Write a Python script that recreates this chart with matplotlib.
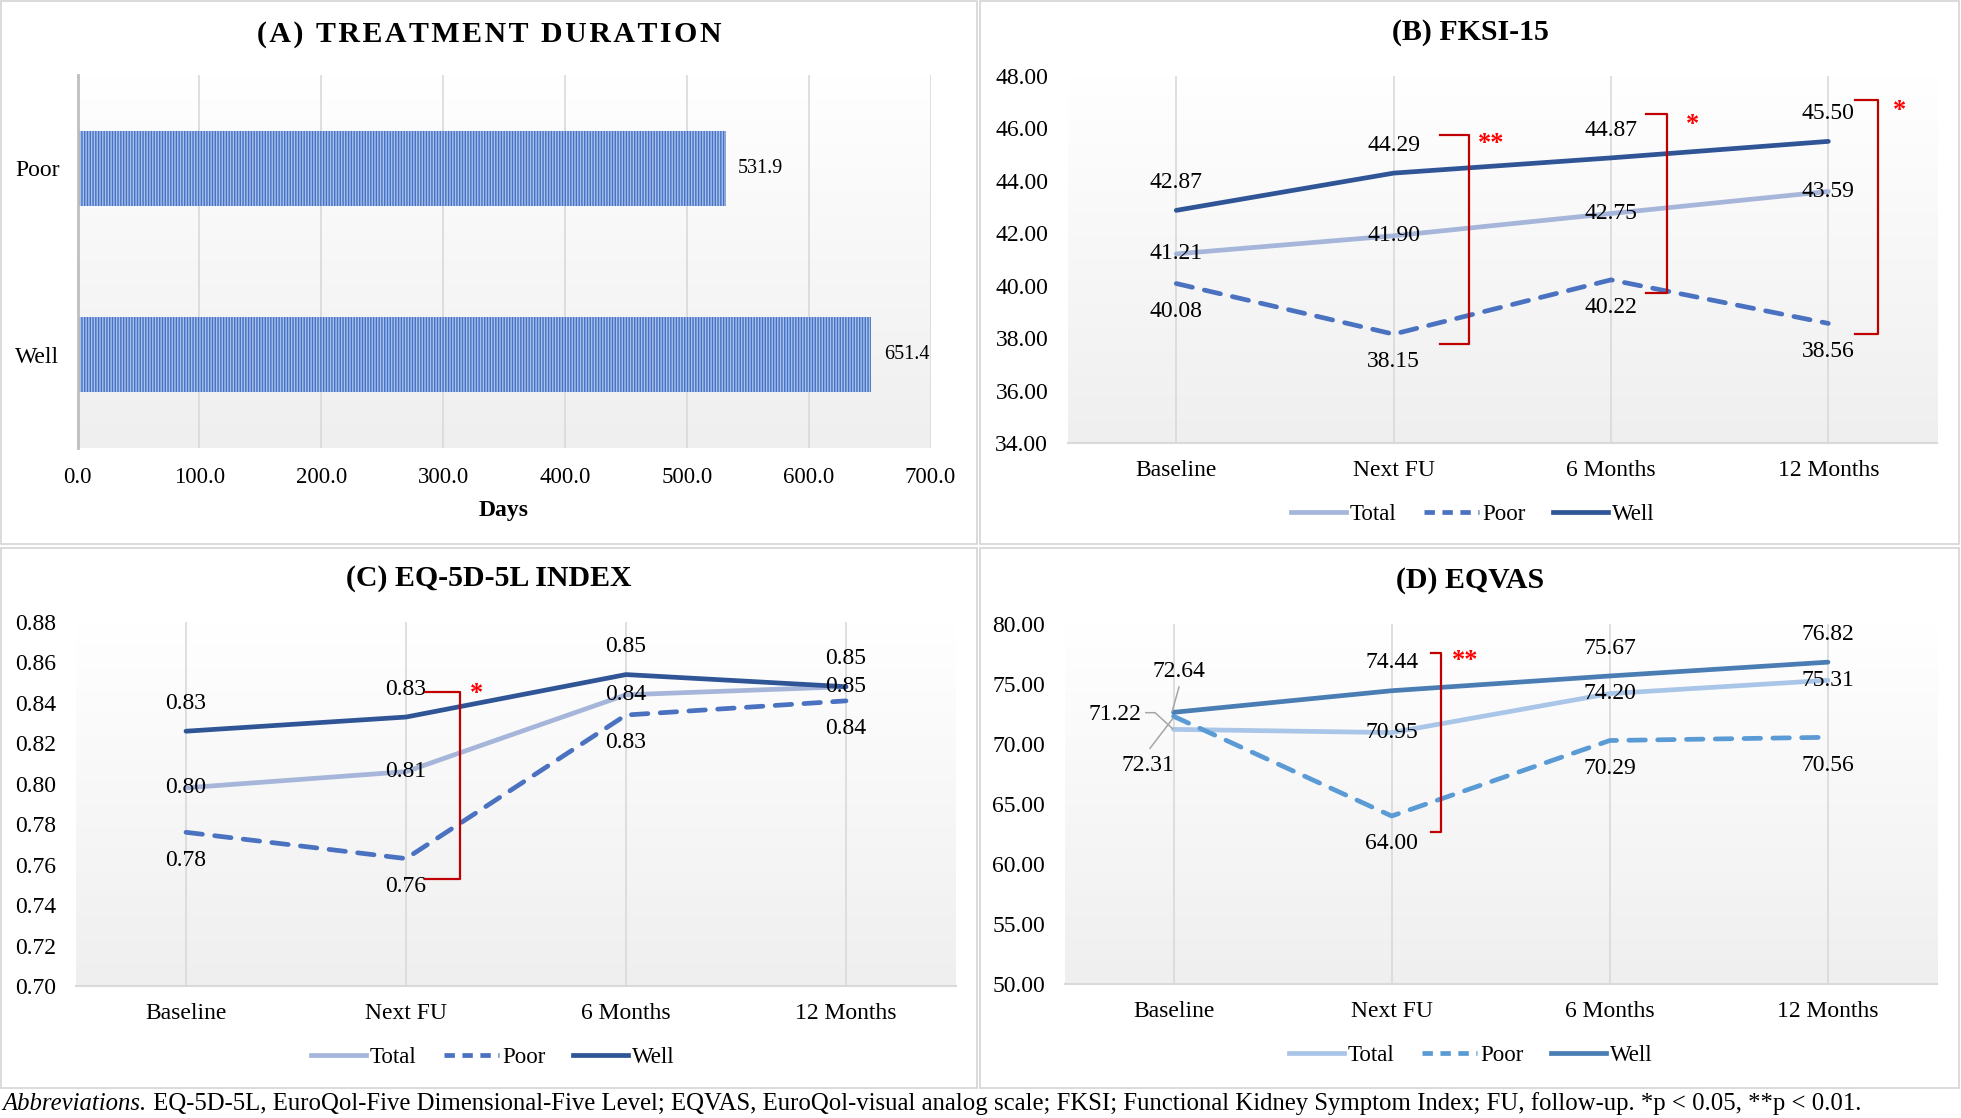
# Four-panel figure: treatment duration and QoL scores by response group

import numpy as np
import matplotlib.pyplot as plt
from matplotlib.colors import LinearSegmentedColormap
from matplotlib.patches import Rectangle
from matplotlib.lines import Line2D

plt.rcParams['font.family'] = ['Liberation Serif', 'DejaVu Serif']
plt.rcParams['hatch.linewidth'] = 1.0

# ---- data ----
groups = ['Well', 'Poor']
duration = [651.4, 531.9]

timepoints = ['Baseline', 'Next FU', '6 Months', '12 Months']

fksi_total = [41.21, 41.90, 42.75, 43.59]
fksi_poor = [40.08, 38.15, 40.22, 38.56]
fksi_well = [42.87, 44.29, 44.87, 45.50]

eq5d_total = [0.798, 0.806, 0.844, 0.848]
eq5d_poor = [0.776, 0.763, 0.834, 0.841]
eq5d_well = [0.826, 0.833, 0.854, 0.848]

eqvas_total = [71.22, 70.95, 74.20, 75.31]
eqvas_poor = [72.31, 64.00, 70.29, 70.56]
eqvas_well = [72.64, 74.44, 75.67, 76.82]

W, H = 1961, 1118
fig = plt.figure(figsize=(W / 100, H / 100), dpi=100)

def px_axes(left, top, right, bottom):
    return fig.add_axes([left / W, 1 - bottom / H, (right - left) / W, (bottom - top) / H])

grad_cmap = LinearSegmentedColormap.from_list('bg', ['#ffffff', '#efefef'])
grad = np.linspace(0, 1, 256).reshape(-1, 1)

def background(ax):
    ax.imshow(grad, extent=[0, 1, 0, 1], transform=ax.transAxes, aspect='auto',
              cmap=grad_cmap, zorder=0)

# panel borders
for (l, t, r, b) in [(1, 1, 977, 544), (980, 1, 1959, 544), (1, 548, 977, 1088), (980, 548, 1959, 1088)]:
    fig.add_artist(Rectangle((l / W, 1 - b / H), (r - l) / W, (b - t) / H, transform=fig.transFigure,
                             fill=False, edgecolor='#d4d4d4', linewidth=1.2))

# ---- (A) treatment duration ----
axA = px_axes(77.5, 75, 930.5, 448)
background(axA)
ypos = np.arange(len(groups))
axA.barh(ypos, duration, height=0.4, color='#a9c0ea', edgecolor='#4472c4', hatch='|' * 6,
         linewidth=0, zorder=2)
for y, v in zip(ypos, duration):
    axA.annotate(f'{v:.1f}', (v, y), xytext=(9, 0), textcoords='offset points',
                 ha='left', va='center', fontsize=14.5)
axA.set_xlim(0, 700)
axA.set_ylim(-0.5, 1.5)
axA.set_xticks(np.arange(0, 701, 100))
axA.set_xticklabels([f'{v:.1f}' for v in np.arange(0, 701, 100)], fontsize=16.5)
axA.set_yticks(ypos)
axA.set_yticklabels(groups, fontsize=17)
axA.tick_params(axis='x', length=0, pad=14)
axA.tick_params(axis='y', length=0, pad=13)
axA.grid(axis='x', color='#d9d9d9', linewidth=1.2, zorder=1)
axA.set_axisbelow(True)
for s in ['top', 'right', 'bottom']:
    axA.spines[s].set_visible(False)
axA.spines['left'].set_color('#bfbfbf')
axA.spines['left'].set_linewidth(2)
axA.spines['left'].set_zorder(3)
axA.set_xlabel('Days', fontsize=17, fontweight='bold', labelpad=8)
fig.text(489 / W, 1 - 35 / H, '\u200a'.join('(A) TREATMENT DURATION'), ha='center', va='center',
         fontsize=21.5, fontweight='bold')

# ---- line panels ----
def line_panel(ax, total, poor, well, colors, ylim, yticks, fmt):
    background(ax)
    x = np.arange(len(timepoints))
    ax.plot(x, total, color=colors[0], lw=3.4, solid_capstyle='round', zorder=3)
    ax.plot(x, poor, color=colors[1], lw=3.4, dashes=(3.5, 2.6), dash_capstyle='round', zorder=3)
    ax.plot(x, well, color=colors[2], lw=3.4, solid_capstyle='round', zorder=4)
    ax.set_xlim(-0.5, len(timepoints) - 0.5)
    ax.set_ylim(*ylim)
    ax.set_yticks(yticks)
    ax.set_yticklabels([fmt.format(v) for v in yticks], fontsize=17)
    ax.set_xticks(x)
    ax.set_xticklabels(timepoints, fontsize=17)
    ax.tick_params(axis='x', length=0, pad=12)
    ax.tick_params(axis='y', length=0, pad=14)
    ax.grid(axis='x', color='#d9d9d9', linewidth=1.2, zorder=1)
    ax.set_axisbelow(True)
    for s in ['top', 'right', 'left']:
        ax.spines[s].set_visible(False)
    ax.spines['bottom'].set_color('#d9d9d9')
    ax.spines['bottom'].set_linewidth(1.5)
    return x

def labels(ax, x, vals, dy, skip=()):
    for i, v in zip(x, vals):
        if i in skip:
            continue
        ax.annotate(f'{v:.2f}', (i, v), xytext=(0, dy), textcoords='offset points',
                    ha='center', va='center', fontsize=17, zorder=5)

def bracket(ax, x0, x1, ytop, ybot, star, sx, sy):
    ax.plot([x0, x1, x1, x0], [ytop, ytop, ybot, ybot], color='#c00000', lw=1.6, zorder=6,
            solid_joinstyle='round')
    ax.text(sx, sy, star, color='#ff0000', fontsize=19, fontweight='bold', ha='center',
            va='center', zorder=6)

def legend(ax, colors, cx, cy):
    handles = [Line2D([], [], color=colors[0], lw=3.4),
               Line2D([], [], color=colors[1], lw=3.4, dashes=(2.2, 1.6)),
               Line2D([], [], color=colors[2], lw=3.4)]
    ax.legend(handles, ['Total', 'Poor', 'Well'], loc='center', bbox_to_anchor=(cx / W, 1 - cy / H),
              bbox_transform=fig.transFigure, ncol=3, frameon=False, fontsize=16.5,
              handlelength=2.4, handletextpad=0.15, columnspacing=1.2)

colors_bc = ['#a6b5da', '#4a72c0', '#2f5597']
colors_d = ['#a9c6e8', '#5b9bd5', '#4a7db4']

# (B) FKSI-15
axB = px_axes(1067.6, 75.8, 1937, 443)
x = line_panel(axB, fksi_total, fksi_poor, fksi_well, colors_bc, (34, 48), np.arange(34, 48.1, 2), '{:.2f}')
labels(axB, x, fksi_total, 0)
labels(axB, x, fksi_poor, -20)
labels(axB, x, fksi_well, 20)
bracket(axB, 1.213, 1.347, 45.74, 37.78, '**', 1.451, 45.40)
bracket(axB, 2.16, 2.258, 46.55, 39.73, '*', 2.373, 46.15)
bracket(axB, 3.121, 3.229, 47.08, 38.16, '*', 3.328, 46.67)
legend(axB, colors_bc, 1472.6, 514)
fig.text(1470 / W, 1 - 33 / H, '(B) FKSI-15', ha='center', va='center', fontsize=21.5, fontweight='bold')

# (C) EQ-5D-5L index
axC = px_axes(76, 622, 956, 986)
x = line_panel(axC, eq5d_total, eq5d_poor, eq5d_well, colors_bc, (0.70, 0.88),
               np.arange(0.70, 0.8801, 0.02), '{:.2f}')
labels(axC, x, eq5d_total, 0)
labels(axC, x, eq5d_poor, -20)
labels(axC, x, eq5d_well, 20)
bracket(axC, 1.087, 1.244, 0.8456, 0.7528, '*', 1.320, 0.8445)
legend(axC, colors_bc, 492.7, 1057)
fig.text(489 / W, 1 - 579 / H, '(C) EQ-5D-5L INDEX', ha='center', va='center', fontsize=21.5, fontweight='bold')

# (D) EQVAS
axD = px_axes(1064.5, 624, 1937, 984)
x = line_panel(axD, eqvas_total, eqvas_poor, eqvas_well, colors_d, (50, 80), np.arange(50, 80.1, 5), '{:.2f}')
labels(axD, x, eqvas_total, 0, skip=(0,))
labels(axD, x, eqvas_poor, -20, skip=(0,))
labels(axD, x, eqvas_well, 20, skip=(0,))
# baseline labels moved off the crowded point, with leader lines
axD.plot([0.025, -0.006], [74.75, eqvas_well[0] + 0.1], color='#a6a6a6', lw=1.1, zorder=5)
axD.plot([-0.127, -0.085, -0.004], [72.61, 72.61, eqvas_total[0] + 0.05], color='#a6a6a6', lw=1.1, zorder=5)
axD.plot([-0.108, -0.004], [69.64, eqvas_poor[0] - 0.2], color='#a6a6a6', lw=1.1, zorder=5)
axD.text(0.025, 76.03, f'{eqvas_well[0]:.2f}', ha='center', va='center', fontsize=17, zorder=5)
axD.text(-0.268, 72.5, f'{eqvas_total[0]:.2f}', ha='center', va='center', fontsize=17, zorder=5)
axD.text(-0.117, 68.17, f'{eqvas_poor[0]:.2f}', ha='center', va='center', fontsize=17, zorder=5)
bracket(axD, 1.179, 1.225, 77.6, 62.7, '**', 1.339, 77.0)
legend(axD, colors_d, 1470.7, 1055.5)
fig.text(1470 / W, 1 - 581 / H, '(D) EQVAS', ha='center', va='center', fontsize=21.5, fontweight='bold')

# footnote
t1 = fig.text(2.5 / W, 14 / H, 'Abbreviations.', ha='left', va='center', fontsize=17.8, style='italic')
plt.annotate(' EQ-5D-5L, EuroQol-Five Dimensional-Five Level; EQVAS, EuroQol-visual analog scale; '
             'FKSI; Functional Kidney Symptom Index; FU, follow-up. *p < 0.05, **p < 0.01.',
             xy=(1, 0), xycoords=t1, ha='left', va='bottom', fontsize=17.8, annotation_clip=False)

fig.savefig('out.png', dpi=100)
